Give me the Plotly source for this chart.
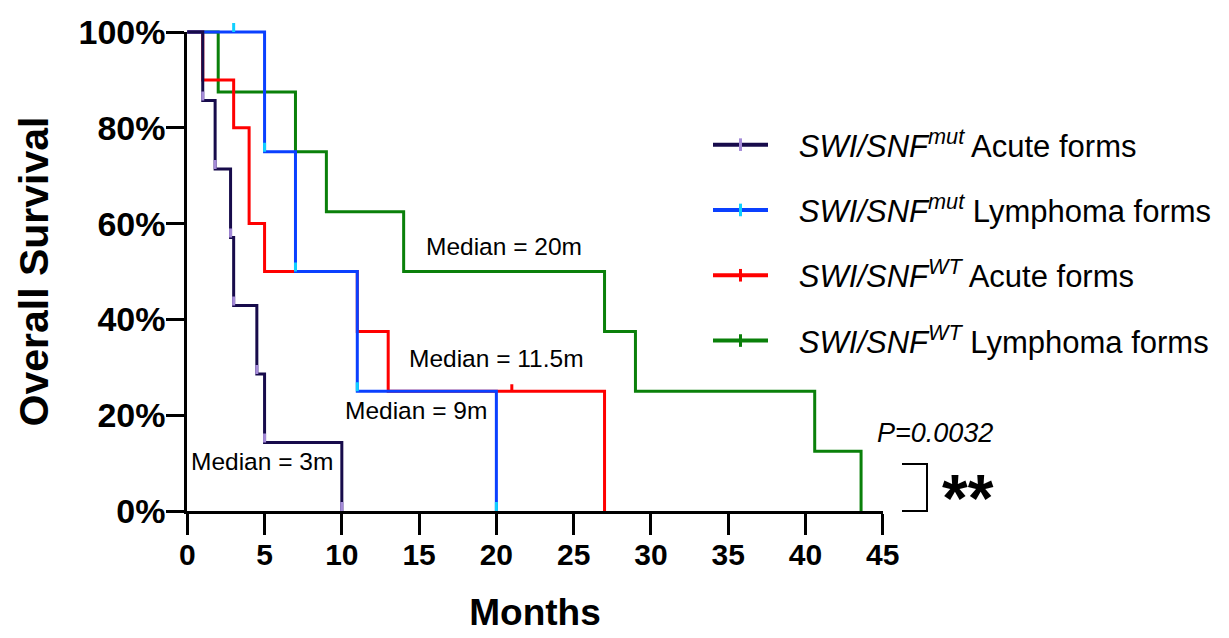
import plotly.graph_objects as go

# ---------------- data ----------------
series_names = [
    "<i>SWI/SNF</i><sup><i>mut</i></sup> Acute forms",
    "<i>SWI/SNF</i><sup><i>mut</i></sup> Lymphoma forms",
    "<i>SWI/SNF</i><sup><i>WT</i></sup> Acute forms",
    "<i>SWI/SNF</i><sup><i>WT</i></sup> Lymphoma forms",
]

mut_acute_t = [0, 1, 1.8, 2.8, 3, 4.5, 5, 10]
mut_acute_s = [100, 85.7, 71.4, 57.1, 42.9, 28.6, 14.3, 0]

mut_lymph_t = [0, 5, 7, 11, 20]
mut_lymph_s = [100, 75, 50, 25, 0]
mut_lymph_cens_t = [3]
mut_lymph_cens_s = [100]

wt_acute_t = [0, 1, 3, 4, 5, 11, 13, 27]
wt_acute_s = [100, 90, 80, 60, 50, 37.5, 25, 0]
wt_acute_cens_t = [21]
wt_acute_cens_s = [25]

wt_lymph_t = [0, 2, 7, 9, 14, 27, 29, 40.6, 43.6]
wt_lymph_s = [100, 87.5, 75, 62.5, 50, 37.5, 25, 12.5, 0]

median_labels = ["Median = 3m", "Median = 9m", "Median = 11.5m", "Median = 20m"]
p_value_text = "P=0.0032"
signif_text = "**"

x_tick_vals = [0, 5, 10, 15, 20, 25, 30, 35, 40, 45]
y_tick_vals = [0, 20, 40, 60, 80, 100]
y_tick_text = ["0%", "20%", "40%", "60%", "80%", "100%"]

# ---------------- styles ----------------
NAVY, NAVY_TICK = "#170b4b", "#a48ad8"
BLUE, BLUE_TICK = "#0a40ff", "#10d0ff"
RED = "#ff0000"
GREEN = "#0a800a"
FONT = "Arial, Liberation Sans, Helvetica, sans-serif"

# ---------------- geometry (page body adds an 8px offset) ----------------
OFF = 8
W_FIG, H_FIG = 1229 - OFF, 638 - OFF
PW, PH = 729, 513
M_L, M_T = 170 - OFF, 10 - OFF
M_R = W_FIG - M_L - PW
M_B = H_FIG - M_T - PH
X0_PX, X45_PX = 187.3 - OFF, 882.7 - OFF
Y0_PX, Y100_PX = 511.0 - OFF, 32.0 - OFF
xs = (X45_PX - X0_PX) / 45.0
ys = (Y0_PX - Y100_PX) / 100.0
x_data_range = [(M_L - X0_PX) / xs, (M_L + PW - X0_PX) / xs]
y_data_range = [(Y0_PX - (M_T + PH)) / ys, (Y0_PX - M_T) / ys]
x2_domain = [(X0_PX - M_L) / PW, (X45_PX - M_L) / PW]
y2_domain = [(M_T + PH - Y0_PX) / PH, (M_T + PH - Y100_PX) / PH]


def pxx(p):
    """screen pixel (reference coords) -> paper x"""
    return (p - OFF - M_L) / PW


def pxy(p):
    """screen pixel (reference coords) -> paper y"""
    return (M_T + PH - (p - OFF)) / PH


TICK_H = 9 / ys

fig = go.Figure()

# curves, bottom to top: green, red, blue, navy
curve_specs = [
    (wt_lymph_t, wt_lymph_s, GREEN),
    (wt_acute_t, wt_acute_s, RED),
    (mut_lymph_t, mut_lymph_s, BLUE),
    (mut_acute_t, mut_acute_s, NAVY),
]
for t, s, c in curve_specs:
    fig.add_trace(go.Scatter(x=t, y=s, mode="lines", line=dict(color=c, width=3, shape="hv"),
                             showlegend=False, hoverinfo="skip"))


def tick_trace(t, s, color, h, thick=3):
    return go.Scatter(
        x=t, y=s, mode="markers", marker=dict(size=1, color="rgba(0,0,0,0)"),
        error_y=dict(type="data", symmetric=False, array=[h] * len(t), arrayminus=[0] * len(t),
                     color=color, thickness=thick, width=0),
        showlegend=False, hoverinfo="skip")


# event / censor marks
fig.add_trace(tick_trace(wt_acute_cens_t, wt_acute_cens_s, RED, 7 / ys))
fig.add_trace(tick_trace(mut_lymph_t[1:], mut_lymph_s[1:], BLUE_TICK, TICK_H))
fig.add_trace(tick_trace(mut_lymph_cens_t, mut_lymph_cens_s, BLUE_TICK, TICK_H))
fig.add_trace(tick_trace(mut_acute_t[1:], mut_acute_s[1:], NAVY_TICK, TICK_H))

# legend entries
legend_specs = [(NAVY, NAVY_TICK), (BLUE, BLUE_TICK), (RED, RED), (GREEN, GREEN)]
for i, (name, (c, tc)) in enumerate(zip(series_names, legend_specs)):
    fig.add_trace(go.Scatter(
        x=[None], y=[None], mode="lines+markers", name="&nbsp;&nbsp;&nbsp;" + name,
        line=dict(color=c, width=4),
        marker=dict(symbol="line-ns", size=9, color=tc, line=dict(color=tc, width=3)),
        legendgroup=f"g{i}", legendrank=i + 1))

# helper trace for the displayed axes
fig.add_trace(go.Scatter(x=[None], y=[None], xaxis="x2", yaxis="y2", showlegend=False,
                         hoverinfo="skip"))

med_font = dict(size=24.5, family=FONT, color="black")
annotations = [
    dict(text=median_labels[0], x=4.85, y=10.3, xref="x", yref="y", showarrow=False,
         xanchor="center", yanchor="middle", font=med_font),
    dict(text=median_labels[1], x=14.8, y=20.9, xref="x", yref="y", showarrow=False,
         xanchor="center", yanchor="middle", font=med_font),
    dict(text=median_labels[2], x=20.0, y=31.9, xref="x", yref="y", showarrow=False,
         xanchor="center", yanchor="middle", font=med_font),
    dict(text=median_labels[3], x=20.5, y=55.3, xref="x", yref="y", showarrow=False,
         xanchor="center", yanchor="middle", font=med_font),
    dict(text="<i>" + p_value_text + "</i>", x=pxx(935), y=pxy(433), xref="paper", yref="paper",
         showarrow=False, xanchor="center", yanchor="middle",
         font=dict(size=27, family=FONT, color="black")),
    dict(text="<b>" + signif_text + "</b>", x=pxx(968), y=pxy(498), xref="paper", yref="paper",
         showarrow=False, xanchor="center", yanchor="middle",
         font=dict(size=66, family=FONT, color="black")),
]

shapes = [
    dict(type="path", xref="paper", yref="paper",
         path=f"M {pxx(902)},{pxy(464)} L {pxx(927)},{pxy(464)} L {pxx(927)},{pxy(511)} L {pxx(902)},{pxy(511)}",
         line=dict(color="black", width=2)),
]

fig.update_layout(
    width=W_FIG, height=H_FIG,
    margin=dict(l=M_L, r=M_R, t=M_T, b=M_B, autoexpand=False),
    paper_bgcolor="white", plot_bgcolor="rgba(0,0,0,0)",
    font=dict(family=FONT, color="black"),
    xaxis=dict(range=x_data_range, visible=False, domain=[0, 1]),
    yaxis=dict(range=y_data_range, visible=False, domain=[0, 1]),
    xaxis2=dict(range=[0, 45], domain=x2_domain, anchor="y2", showline=True, linewidth=3,
                linecolor="black", ticks="outside", ticklen=21, tickwidth=3, tickcolor="black",
                tickvals=x_tick_vals, showgrid=False, zeroline=False, ticklabelstandoff=-6,
                tickfont=dict(size=30, family=FONT, weight="bold"),
                title=dict(text="Months", font=dict(size=37, family=FONT, weight="bold"), standoff=30)),
    yaxis2=dict(range=[0, 100], domain=y2_domain, anchor="x2", showline=True, linewidth=3,
                linecolor="black", ticks="outside", ticklen=18, tickwidth=3, tickcolor="black",
                tickvals=y_tick_vals, ticktext=y_tick_text, showgrid=False, zeroline=False,
                ticklabelstandoff=-6,
                tickfont=dict(size=34, family=FONT, weight="bold"),
                title=dict(text="Overall Survival", font=dict(size=41, family=FONT, weight="bold"),
                           standoff=18)),
    legend=dict(x=pxx(708), y=pxy(118),
                xanchor="left", yanchor="top", font=dict(size=31, family=FONT),
                itemwidth=55, tracegroupgap=22, bgcolor="rgba(0,0,0,0)", traceorder="grouped"),
    annotations=annotations,
    shapes=shapes,
    showlegend=True,
)

fig.write_html("out.html")
